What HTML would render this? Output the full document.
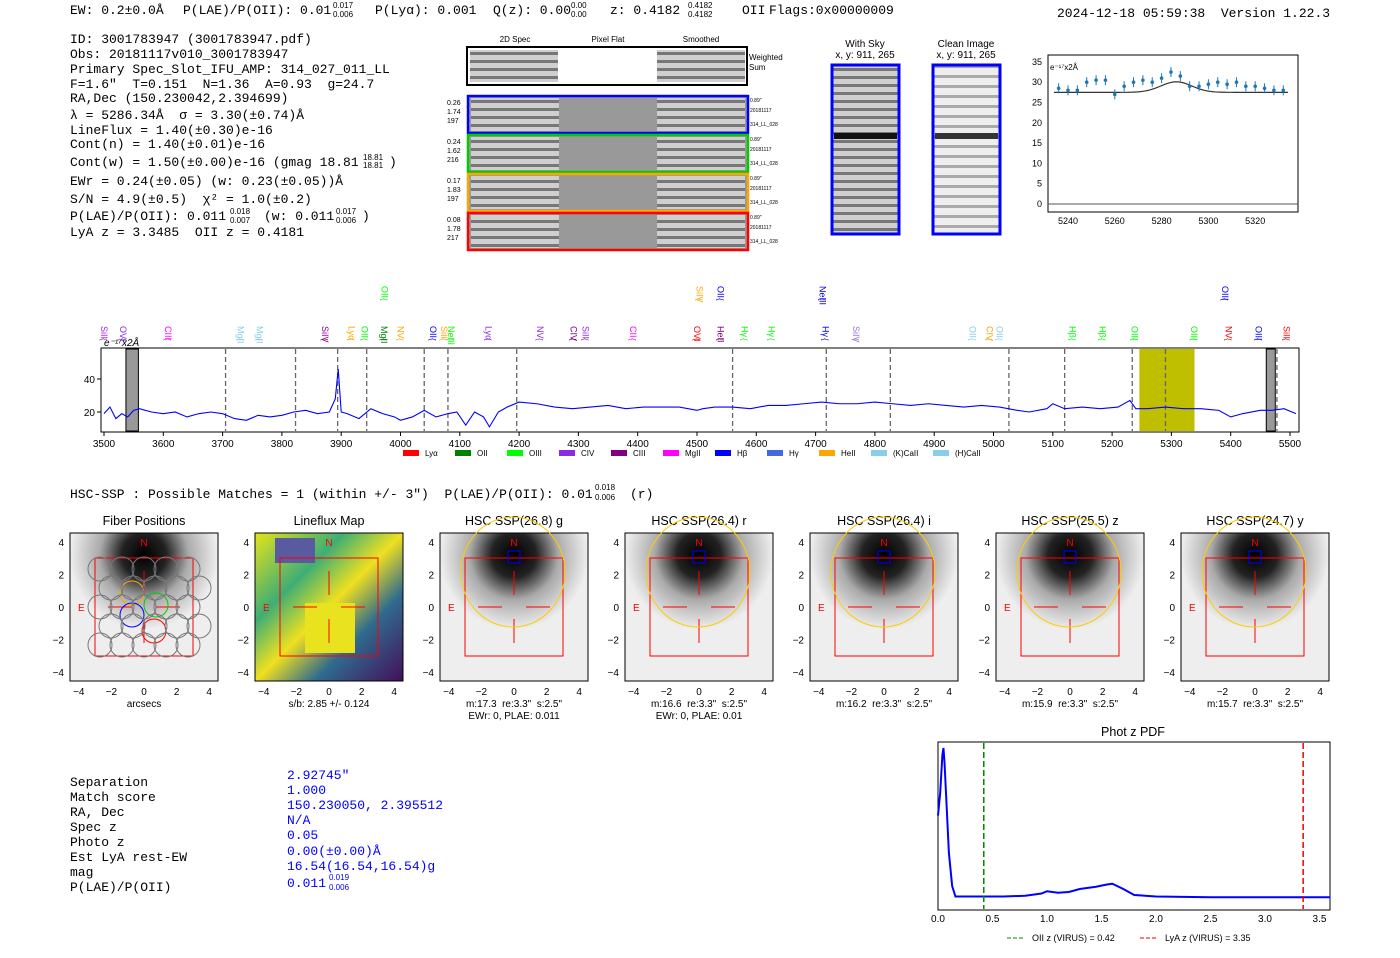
<!DOCTYPE html>
<html><head><meta charset="utf-8"><style>
body{margin:0;background:#fff}
svg text{font-family:"Liberation Sans",sans-serif;white-space:pre}
.m{font-family:"Liberation Mono",monospace!important;font-size:13px}
</style></head><body>
<svg id="s" width="1400" height="953" xmlns="http://www.w3.org/2000/svg" xml:space="preserve">
<defs>
<radialGradient id="blob" cx="0.5" cy="0.15" r="0.5"><stop offset="0" stop-color="#000"/><stop offset="0.3" stop-color="#222"/><stop offset="0.6" stop-color="#aaa"/><stop offset="1" stop-color="#eee"/></radialGradient>
<pattern id="stripe" width="10" height="8" patternUnits="userSpaceOnUse"><rect width="10" height="8" fill="#cfcfcf"/><rect y="4" width="10" height="3" fill="#777"/></pattern>
<pattern id="stripe2" width="10" height="10" patternUnits="userSpaceOnUse"><rect width="10" height="10" fill="#eee"/><rect y="5" width="10" height="3" fill="#aaa"/></pattern>
<linearGradient id="lf" x1="0" y1="0" x2="1" y2="1"><stop offset="0" stop-color="#e6e31a"/><stop offset="0.3" stop-color="#3fae74"/><stop offset="0.5" stop-color="#f0e020"/><stop offset="0.7" stop-color="#2f6b8e"/><stop offset="1" stop-color="#440f5a"/></linearGradient>
</defs>
<g>
<text class="m" x="70" y="14">EW: 0.2±0.0Å</text>
<text class="m" x="183" y="14">P(LAE)/P(OII): 0.01</text>
<text class="m" x="375" y="14">P(Lyα): 0.001</text>
<text class="m" x="493" y="14">Q(z): 0.00</text>
<text class="m" x="610" y="14">z: 0.4182</text>
<text class="m" x="742" y="14">OII</text>
<text class="m" x="769" y="14">Flags:0x00000009</text>
<text class="m" x="1057" y="17">2024-12-18 05:59:38  Version 1.22.3</text>
</g>
<g>
<text class="m" x="70" y="43">ID: 3001783947 (3001783947.pdf)</text>
<text class="m" x="70" y="58">Obs: 20181117v010_3001783947</text>
<text class="m" x="70" y="73">Primary Spec_Slot_IFU_AMP: 314_027_011_LL</text>
<text class="m" x="70" y="88">F=1.6"  T=0.151  N=1.36  A=0.93  g=24.7</text>
<text class="m" x="70" y="102">RA,Dec (150.230042,2.394699)</text>
<text class="m" x="70" y="119">λ = 5286.34Å  σ = 3.30(±0.74)Å</text>
<text class="m" x="70" y="134">LineFlux = 1.40(±0.30)e-16</text>
<text class="m" x="70" y="148">Cont(n) = 1.40(±0.01)e-16</text>
<text class="m" x="70" y="166">Cont(w) = 1.50(±0.00)e-16 (gmag 18.81</text><text class="m" x="389" y="166">)</text>
<text class="m" x="70" y="185">EWr = 0.24(±0.05) (w: 0.23(±0.05))Å</text>
<text class="m" x="70" y="203">S/N = 4.9(±0.5)  χ² = 1.0(±0.2)</text>
<text class="m" x="70" y="220">P(LAE)/P(OII): 0.011</text><text class="m" x="264" y="220">(w: 0.011</text><text class="m" x="362" y="220">)</text>
<text class="m" x="70" y="236">LyA z = 3.3485  OII z = 0.4181</text>
</g>
<g>
<text x="515" y="42" font-size="8" text-anchor="middle">2D Spec</text><text x="608" y="42" font-size="8" text-anchor="middle">Pixel Flat</text><text x="701" y="42" font-size="8" text-anchor="middle">Smoothed</text>
<rect x="467" y="47" width="280" height="38" fill="#fff" stroke="#000" stroke-width="2"/>
<rect x="470" y="50" width="88" height="32" fill="url(#stripe)"/><rect x="657" y="50" width="88" height="32" fill="url(#stripe)"/>
<text x="749" y="60" font-size="8">Weighted</text><text x="749" y="70" font-size="8">Sum</text>
</g>
<g id="cut"></g>
<g>
<text x="865" y="47" font-size="10" text-anchor="middle">With Sky</text><text x="865" y="58" font-size="10" text-anchor="middle">x, y: 911, 265</text>
<rect x="832" y="65" width="67" height="169" fill="url(#stripe)" stroke="#00f" stroke-width="3"/>
<rect x="834" y="133" width="63" height="6" fill="#111"/>
<text x="966" y="47" font-size="10" text-anchor="middle">Clean Image</text><text x="966" y="58" font-size="10" text-anchor="middle">x, y: 911, 265</text>
<rect x="933" y="65" width="67" height="169" fill="url(#stripe2)" stroke="#00f" stroke-width="3"/>
<rect x="935" y="133" width="63" height="6" fill="#333"/>
</g>
<g id="mini"></g>
<g id="spec"></g>
<text class="m" x="70" y="498">HSC-SSP : Possible Matches = 1 (within +/- 3")  P(LAE)/P(OII): 0.01</text>
<text class="m" x="630" y="498">(r)</text>
<g id="thumbs"></g>
<g>
<text class="m" x="70" y="786">Separation</text><text class="m" x="70" y="801">Match score</text><text class="m" x="70" y="816">RA, Dec</text><text class="m" x="70" y="831">Spec z</text><text class="m" x="70" y="846">Photo z</text><text class="m" x="70" y="861">Est LyA rest-EW</text><text class="m" x="70" y="876">mag</text><text class="m" x="70" y="891">P(LAE)/P(OII)</text>
<g fill="#00f"><text class="m" x="287" y="779">2.92745"</text><text class="m" x="287" y="794">1.000</text><text class="m" x="287" y="809">150.230050, 2.395512</text><text class="m" x="287" y="824">N/A</text><text class="m" x="287" y="839">0.05</text><text class="m" x="287" y="855">0.00(±0.00)Å</text><text class="m" x="287" y="870">16.54(16.54,16.54)g</text><text class="m" x="287" y="887">0.011</text></g>
</g>
<g id="pdf"></g>
</svg>
<script>
const NS='http://www.w3.org/2000/svg';
function el(p,t,a,txt){const e=document.createElementNS(NS,t);for(const k in a)e.setAttribute(k,a[k]);if(txt!==undefined)e.textContent=txt;p.appendChild(e);return e;}
(function(){const s=document.getElementById('s');
[[333,8,'0.017'],[333,17,'0.006'],[571,8,'0.00'],[571,17,'0.00'],[688,8,'0.4182'],[688,17,'0.4182'],[363,160,'18.81'],[363,168,'18.81'],[230,214,'0.018'],[230,223,'0.007'],[336,214,'0.017'],[336,223,'0.006'],[595,490,'0.018'],[595,500,'0.006'],[329,880,'0.019'],[329,890,'0.006']].forEach(([x,y,t])=>{const e=el(s,'text',{x,y,'font-size':8,fill:y>870?'#00f':'#000'},t);});})();
// ---- spectrum data ----
const specWave=[3500,3510,3520,3530,3540,3550,3560,3580,3600,3620,3640,3660,3680,3700,3720,3740,3760,3780,3800,3820,3840,3860,3880,3890,3895,3900,3910,3930,3950,3970,3990,4000,4020,4040,4060,4080,4095,4110,4125,4140,4150,4165,4180,4200,4230,4260,4290,4320,4350,4380,4410,4440,4470,4500,4510,4530,4560,4590,4620,4650,4680,4710,4740,4770,4800,4830,4860,4890,4920,4950,4980,5010,5040,5060,5090,5100,5120,5150,5180,5210,5230,5240,5260,5290,5320,5350,5380,5400,5420,5450,5470,5490,5510];
const specFlux=[19,23,16,19,17,21,22,20,19,20,17,19,20,19,16,15,18,17,18,20,21,19,20,28,46,20,19,16,22,19,17,15,17,21,17,19,20,12,20,17,11,20,23,26,25,23,22,23,24,22,23,23,23,21,22,23,23,22,24,24,25,26,25,25,26,25,24,25,24,23,24,23,21,20,22,25,22,23,22,23,27,22,22,23,22,22,21,17,19,21,21,22,19];
const specTicks=[3500,3600,3700,3800,3900,4000,4100,4200,4300,4400,4500,4600,4700,4800,4900,5000,5100,5200,5300,5400,5500];
const specYTicks=[20,40];
const dashedLines=[3705,3823,3894,3943,4040,4080,4196,4560,4718,4826,5026,5120,5234,5290,5478];
const lineLabels=[["SiII",3500,"#a020f0",1],["OVI",3532,"#8a2be2",1],["CIII",3608,"#ff00ff",1],["MgII",3730,"#87ceeb",1],["MgII",3762,"#87ceeb",1],["SiIV",3873,"#8b008b",1],["Lyα",3917,"#ffa500",1],["OII",3939,"#00ff00",1],["MgII",3972,"#008000",1],["NV",4000,"#ffa500",1],["OII",4055,"#0000ff",1],["SiII",4073,"#ffa500",1],["NeIII",4085,"#00ff00",1],["Lyα",4148,"#8a2be2",1],["NV",4235,"#8a2be2",1],["CIV",4292,"#800080",1],["SiII",4312,"#8a2be2",1],["CII",4392,"#ff00ff",1],["OVI",4500,"#ff0000",1],["HeII",4540,"#800080",1],["Hγ",4580,"#00ff00",1],["Hγ",4626,"#00ff00",1],["Hγ",4717,"#0000ff",1],["SiIV",4768,"#9370db",1],["OII",4965,"#87ceeb",1],["CIV",4993,"#ffa500",1],["OII",5010,"#87ceeb",1],["Hβ",5133,"#00ff00",1],["Hβ",5184,"#00ff00",1],["OIII",5238,"#00ff00",1],["OIII",5338,"#00ff00",1],["NV",5396,"#ff0000",1],["OIII",5447,"#0000ff",1],["SiII",5494,"#ff0000",1],["OII",3973,"#00ff00",0],["SiIV",4504,"#ffa500",0],["OII",4540,"#0000ff",0],["NeIII",4712,"#0000ff",0],["OIII",5390,"#0000ff",0]];
const legendItems=[["Lyα","#ff0000"],["OII","#008000"],["OIII","#00ff00"],["CIV","#8a2be2"],["CIII","#800080"],["MgII","#ff00ff"],["Hβ","#0000ff"],["Hγ","#4169e1"],["HeII","#ffa500"],["(K)CaII","#87ceeb"],["(H)CaII","#87ceeb"]];
const sx=w=>104+(w-3500)*0.593, sy=f=>412-(f-20)*1.65;
(function(){
const g=document.getElementById('spec');
const box=el(g,'rect',{x:101,y:348,width:1198,height:84,fill:'none',stroke:'#000'});

el(g,'rect',{x:sx(3537),y:349,width:sx(3558)-sx(3537),height:82,fill:'#999',stroke:'#000'});
el(g,'rect',{x:sx(5246),y:349,width:sx(5339)-sx(5246),height:82,fill:'#bfbf00'});
el(g,'rect',{x:sx(5460),y:349,width:9,height:82,fill:'#999',stroke:'#000'});
dashedLines.forEach(w=>{const l=el(g,'line',{x1:sx(w),x2:sx(w),y1:349,y2:431,stroke:'#666','stroke-dasharray':'5,3','stroke-width':1.3});
});
const p=el(g,'polyline',{points:specWave.map((w,i)=>sx(w)+','+sy(specFlux[i])).join(' '),fill:'none',stroke:'#00f','stroke-width':1.1});

specTicks.forEach(t=>{el(g,'line',{x1:sx(t),x2:sx(t),y1:432,y2:436,stroke:'#000'});el(g,'text',{x:sx(t),y:447,'font-size':10,'text-anchor':'middle'},t);});
specYTicks.forEach(t=>{el(g,'line',{x1:97,x2:101,y1:sy(t),y2:sy(t),stroke:'#000'});el(g,'text',{x:95,y:sy(t)+4,'font-size':10,'text-anchor':'end'},t);});
el(g,'text',{x:104,y:346,'font-size':10,'font-style':'italic'},'e⁻¹⁷x2Å');
lineLabels.forEach(([n,w,c,r])=>{const x=sx(w),y=r?344:304;
const t=el(g,'text',{x:0,y:0,'font-size':9,fill:c,transform:`translate(${x-3},${y-18}) rotate(90)`},n);

el(g,'text',{x:0,y:0,'font-size':8,fill:c,transform:`translate(${x-3},${y-6}) rotate(90)`},'{');});
let lx=403;legendItems.forEach(([n,c])=>{el(g,'rect',{x:lx,y:450,width:16,height:6,fill:c});el(g,'text',{x:lx+22,y:456,'font-size':8},n);lx+=n.length>5?62:52;});
})();
// ---- cutouts ----
(function(){const g=document.getElementById('cut');
const rows=[["0.26","1.74","197","#00f",96],["0.24","1.62","216","#0c0",135],["0.17","1.83","197","#ffa500",174],["0.08","1.78","217","#f00",213]];
rows.forEach(([a,b,c,col,y])=>{
el(g,'rect',{x:469,y:y,width:278,height:37,fill:'#999'});
el(g,'rect',{x:471,y:y+2,width:88,height:33,fill:'url(#stripe)'});
el(g,'rect',{x:657,y:y+2,width:88,height:33,fill:'url(#stripe)'});
el(g,'rect',{x:468,y:y,width:280,height:37,fill:'none',stroke:col,'stroke-width':2.5});
[a,b,c].forEach((v,i)=>el(g,'text',{x:447,y:y+9+i*9,'font-size':7},v));
el(g,'text',{x:750,y:y+6,'font-size':5},'0.89"');el(g,'text',{x:750,y:y+16,'font-size':5},'20181117');el(g,'text',{x:750,y:y+30,'font-size':5},'314_LL_028');});
})();
// ---- mini fit plot ----
const fitWave=[5236,5240,5244,5248,5252,5256,5260,5264,5268,5272,5276,5280,5284,5288,5292,5296,5300,5304,5308,5312,5316,5320,5324,5328,5332];
const fitFlux=[28.5,28,28,30,30.5,30.5,27,29,30,30.5,30,31,32.5,31.5,29,29,29.5,30,29.5,30,29,29,28.5,28,28];
const fitTicksX=[5240,5260,5280,5300,5320], fitTicksY=[0,5,10,15,20,25,30,35];
(function(){const g=document.getElementById('mini');
const mx=w=>1068+(w-5240)*2.34, my=f=>204-f*4.06;
el(g,'rect',{x:1048,y:55,width:250,height:157,fill:'none',stroke:'#000'});
el(g,'line',{x1:1048,x2:1298,y1:my(0),y2:my(0),stroke:'#555'});
let d='';for(let w=5234;w<=5334;w+=1){const f=27.5+2.6*Math.exp(-Math.pow(w-5286.3,2)/(2*3.3*3.3*4));d+=(d?'L':'M')+mx(w)+','+my(f);}
el(g,'path',{d,fill:'none',stroke:'#333','stroke-width':1.2});
fitWave.forEach((w,i)=>{const pt=el(g,'circle',{cx:mx(w),cy:my(fitFlux[i]),r:1.8,fill:'#1f77b4'});
el(g,'line',{x1:mx(w),x2:mx(w),y1:my(fitFlux[i])-5,y2:my(fitFlux[i])+5,stroke:'#1f77b4'});});
fitTicksX.forEach(t=>el(g,'text',{x:mx(t),y:224,'font-size':9,'text-anchor':'middle'},t));
fitTicksY.forEach(t=>el(g,'text',{x:1042,y:my(t)+3,'font-size':9,'text-anchor':'end'},t));
el(g,'text',{x:1050,y:70,'font-size':8},'e⁻¹⁷x2Å');
})();
// ---- thumbnails ----
(function(){const g=document.getElementById('thumbs');
const titles=["Fiber Positions","Lineflux Map","HSC SSP(26.8) g","HSC SSP(26.4) r","HSC SSP(26.4) i","HSC SSP(25.5) z","HSC SSP(24.7) y"];
const xs=[70,255,440,625,810,996,1181];
const cap1=["arcsecs","s/b: 2.85 +/- 0.124","m:17.3  re:3.3\"  s:2.5\"","m:16.6  re:3.3\"  s:2.5\"","m:16.2  re:3.3\"  s:2.5\"","m:15.9  re:3.3\"  s:2.5\"","m:15.7  re:3.3\"  s:2.5\""];
const cap2=["","","EWr: 0, PLAE: 0.011","EWr: 0, PLAE: 0.01","","",""];
xs.forEach((x,i)=>{const W=148,y=533,cx=x+74,cy=y+74,k=16.3;
el(g,'text',{x:cx,y:525,'font-size':12.5,'text-anchor':'middle'},titles[i]);
if(i===1){el(g,'rect',{x,y,width:W,height:W,fill:'url(#lf)'});el(g,'rect',{x:x+50,y:y+70,width:50,height:50,fill:'#e8e31e'});el(g,'rect',{x:x+20,y:y+5,width:40,height:25,fill:'#5a5aa0'});}
else el(g,'rect',{x,y,width:W,height:W,fill:'url(#blob)'});
el(g,'rect',{x,y,width:W,height:W,fill:'none',stroke:'#000'});
el(g,'rect',{x:cx-49,y:cy-49,width:98,height:98,fill:'none',stroke:'#f00'});
el(g,'text',{x:cx,y:y+13,'font-size':10,fill:'#f00','text-anchor':'middle'},'N');
el(g,'text',{x:x+8,y:cy+4,'font-size':10,fill:'#f00'},'E');
[[-36,-12],[12,36]].forEach(([a,b])=>{el(g,'line',{x1:cx+a,x2:cx+b,y1:cy,y2:cy,stroke:'#f00'});el(g,'line',{x1:cx,x2:cx,y1:cy+a,y2:cy+b,stroke:'#f00'});});
if(i>=2){el(g,'ellipse',{cx:cx-1,cy:cy-35,rx:52,ry:55,fill:'none',stroke:'#fc0'});el(g,'rect',{x:cx-6,y:cy-56,width:12,height:12,fill:'none',stroke:'#00f'});}
if(i===0){[[-12,-14,'#fa0'],[-12,8,'#00f'],[10,24,'#f00'],[12,-2,'#0c0']].forEach(([dx,dy,c])=>el(g,'circle',{cx:cx+dx,cy:cy+dy,r:12,fill:'none',stroke:c}));
for(let r=-2;r<=2;r++)for(let q=-2;q<=2;q++)el(g,'circle',{cx:cx+q*22+(r%2?11:0),cy:cy+r*19,r:12,fill:'none',stroke:'#777'});}
[-4,-2,0,2,4].forEach(t=>{el(g,'text',{x:cx+t*k,y:y+W+14,'font-size':10,'text-anchor':'middle'},t===0?'0':'−'.repeat(t<0)+Math.abs(t));
el(g,'text',{x:x-6,y:cy-t*k+4,'font-size':10,'text-anchor':'end'},t===0?'0':'−'.repeat(t<0)+Math.abs(t));});
el(g,'text',{x:cx,y:y+W+26,'font-size':10,'text-anchor':'middle'},cap1[i]);
if(cap2[i])el(g,'text',{x:cx,y:y+W+38,'font-size':10,'text-anchor':'middle'},cap2[i]);});
})();
// ---- phot z pdf ----
const pdfZ=[0,0.02,0.04,0.05,0.06,0.08,0.1,0.13,0.16,0.2,0.4,0.6,0.8,0.95,1.0,1.1,1.2,1.3,1.45,1.55,1.6,1.7,1.8,2.0,2.5,3.0,3.5,3.6];
const pdfP=[0.55,0.7,0.95,1.0,0.9,0.6,0.3,0.08,0.01,0.01,0.01,0.01,0.015,0.03,0.045,0.035,0.04,0.06,0.075,0.09,0.095,0.06,0.02,0.01,0.005,0.005,0.005,0.005];
const pdfTicks=[0,0.5,1,1.5,2,2.5,3,3.5];
(function(){const g=document.getElementById('pdf');
const px=z=>938+z*109, py=p=>898-p*150;
el(g,'text',{x:1133,y:736,'font-size':12.5,'text-anchor':'middle'},'Phot z PDF');
el(g,'rect',{x:938,y:742,width:392,height:168,fill:'none',stroke:'#000'});
const l=el(g,'polyline',{points:pdfZ.map((z,i)=>px(z)+','+py(pdfP[i])).join(' '),fill:'none',stroke:'#00f','stroke-width':2});

el(g,'line',{x1:px(0.42),x2:px(0.42),y1:743,y2:909,stroke:'#080','stroke-dasharray':'6,3','stroke-width':1.5});
el(g,'line',{x1:px(3.35),x2:px(3.35),y1:743,y2:909,stroke:'#e00','stroke-dasharray':'6,3','stroke-width':1.5});
pdfTicks.forEach(t=>el(g,'text',{x:px(t),y:922,'font-size':10,'text-anchor':'middle'},t.toFixed(1)));
el(g,'line',{x1:1007,x2:1025,y1:938,y2:938,stroke:'#080','stroke-dasharray':'4,2'});el(g,'text',{x:1032,y:941,'font-size':9},'OII z (VIRUS) = 0.42');
el(g,'line',{x1:1140,x2:1158,y1:938,y2:938,stroke:'#e00','stroke-dasharray':'4,2'});el(g,'text',{x:1165,y:941,'font-size':9},'LyA z (VIRUS) = 3.35');
})();
</script>
</body></html>
